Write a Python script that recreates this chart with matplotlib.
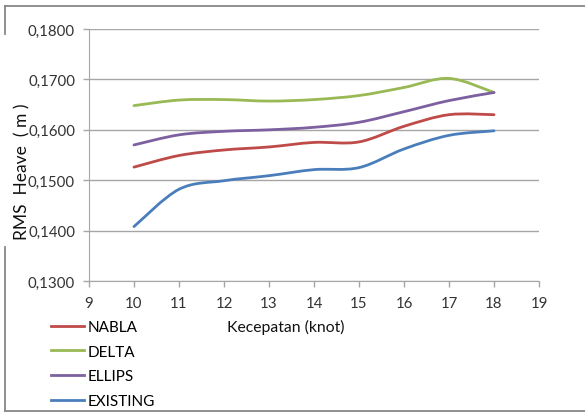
import numpy as np
import matplotlib
matplotlib.use("Agg")
import matplotlib.pyplot as plt
from matplotlib.path import Path
from matplotlib.patches import PathPatch
from matplotlib.lines import Line2D

plt.rcParams['font.family'] = ['Lato', 'DejaVu Sans']

speed = [10, 11, 12, 13, 14, 15, 16, 17, 18]
nabla = [0.1526, 0.1549, 0.1560, 0.1566, 0.1575, 0.1576, 0.1607, 0.1630, 0.1630]
delta = [0.1648, 0.1659, 0.1660, 0.1657, 0.1660, 0.1668, 0.1684, 0.1702, 0.1674]
ellips = [0.1570, 0.1590, 0.1597, 0.1600, 0.1605, 0.1615, 0.1636, 0.1658, 0.1674]
existing = [0.1408, 0.1482, 0.1499, 0.1509, 0.1521, 0.1525, 0.1562, 0.1589, 0.1598]

series = [("NABLA", nabla, "#BE4B48"),
          ("DELTA", delta, "#98B954"),
          ("ELLIPS", ellips, "#7D60A0"),
          ("EXISTING", existing, "#4A7EBB")]


def smooth_path(x, y):
    # excel-like smoothed line: bezier segments through the points
    x = np.asarray(x, float)
    y = np.asarray(y, float)
    px = np.concatenate([[x[0]], x, [x[-1]]])
    py = np.concatenate([[y[0]], y, [y[-1]]])
    verts = [(x[0], y[0])]
    codes = [Path.MOVETO]
    t = 1 / 6
    for i in range(1, len(px) - 2):
        c1 = (px[i] + (px[i + 1] - px[i - 1]) * t, py[i] + (py[i + 1] - py[i - 1]) * t)
        c2 = (px[i + 1] - (px[i + 2] - px[i]) * t, py[i + 1] - (py[i + 2] - py[i]) * t)
        verts += [c1, c2, (px[i + 1], py[i + 1])]
        codes += [Path.CURVE4] * 3
    return Path(verts, codes)


fig = plt.figure(figsize=(5.85, 4.14), dpi=100)
ax = fig.add_axes([0.1521, 0.3188, 0.7693, 0.6087])

handles = []
for name, vals, col in series:
    ax.add_patch(PathPatch(smooth_path(speed, vals), facecolor='none',
                           edgecolor=col, lw=2.0, capstyle='round'))
    handles.append(Line2D([], [], color=col, lw=2.0, label=name))

ax.set_xlim(9, 19)
ax.set_ylim(0.13, 0.18)
ax.set_xticks(range(9, 20))
ax.set_yticks([0.13, 0.14, 0.15, 0.16, 0.17, 0.18])
ax.set_yticklabels(["0,1300", "0,1400", "0,1500", "0,1600", "0,1700", "0,1800"])
ax.grid(axis='y', color='#A6A6A6', lw=1.0)
ax.set_axisbelow(True)
for s in ['top', 'right']:
    ax.spines[s].set_visible(False)
for s in ['left', 'bottom']:
    ax.spines[s].set_color('#A6A6A6')
ax.tick_params(axis='both', colors='#A6A6A6', labelcolor='#333333', labelsize=10.8,
               length=4, width=1)
ax.tick_params(axis='x', pad=7)
ax.tick_params(axis='y', pad=6)

fig.text(0.489, 0.21, "Kecepatan (knot)", fontsize=11.3, ha='center', va='center', color='#111111')
fig.text(0.0376, 0.5845, "RMS  Heave  ( m )", fontsize=12.5, rotation=90, ha='center', va='center',
         color='#111111')

fig.legend(handles=handles, loc='upper left', bbox_to_anchor=(0.088, 0.2246),
           frameon=False, fontsize=11, handlelength=2.1, handletextpad=0.25,
           labelspacing=0.7, borderaxespad=0, borderpad=0)

# outer chart border, partly visible
bc = '#878787'
W, H = 585, 414
fig.add_artist(Line2D([5 / W, 1], [1 - 7 / H, 1 - 7 / H], color=bc, lw=1.3, transform=fig.transFigure))
fig.add_artist(Line2D([5 / W, 5 / W], [1 - 7 / H, 1 - 35 / H], color=bc, lw=1.3, transform=fig.transFigure))
fig.add_artist(Line2D([5 / W, 5 / W], [1 - 248 / H, 1 - 412 / H], color=bc, lw=1.3, transform=fig.transFigure))
fig.add_artist(Line2D([5 / W, 1], [1 - 412 / H, 1 - 412 / H], color=bc, lw=1.3, transform=fig.transFigure))

fig.savefig("out.png", dpi=100)
